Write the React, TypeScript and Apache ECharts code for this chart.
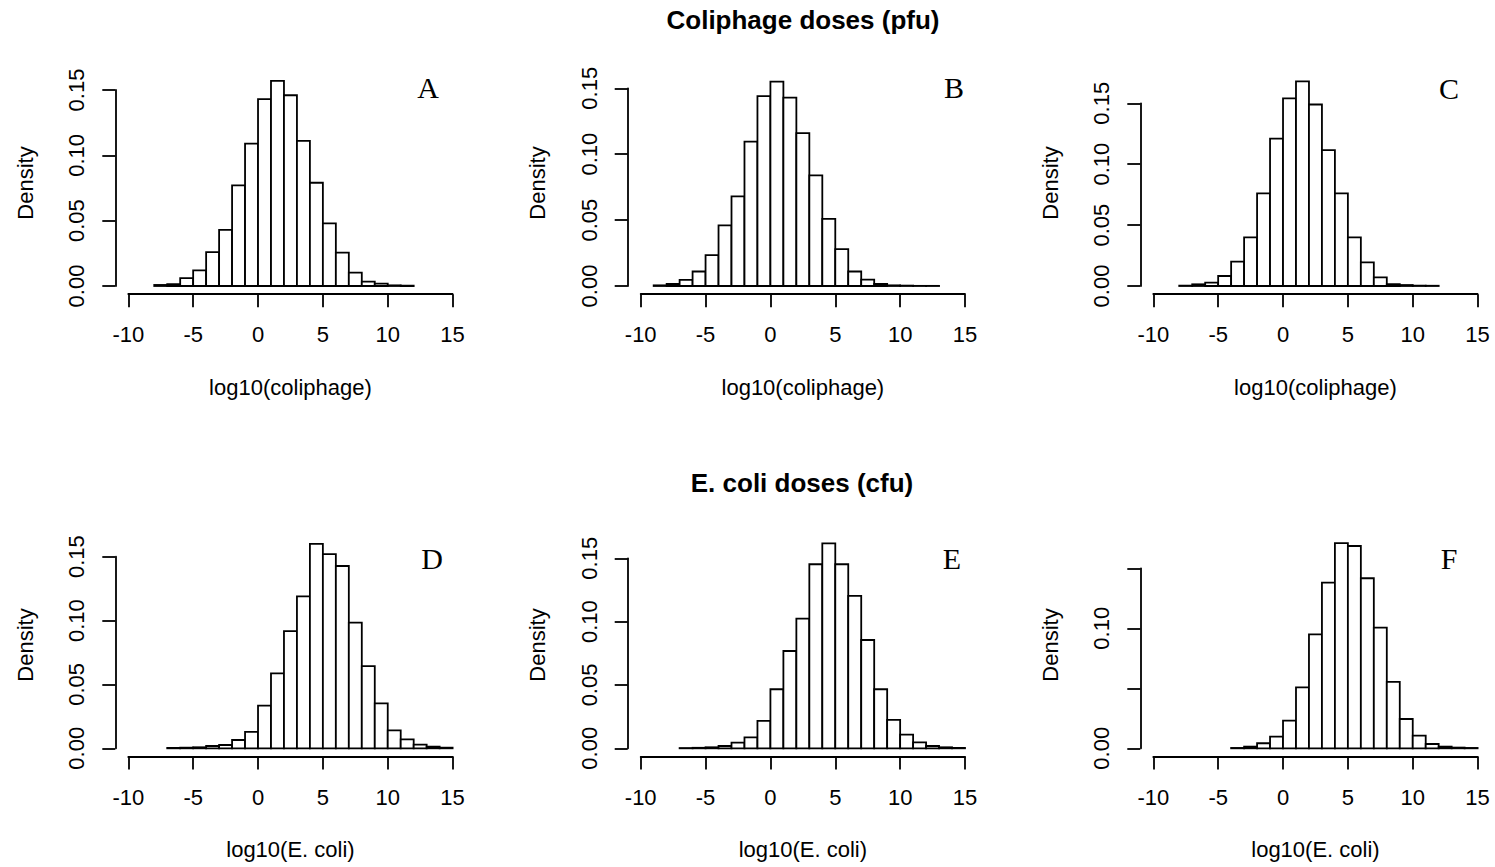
import React, { useEffect, useRef } from "react";
import * as echarts from "echarts";

// ---------- data (density per unit-width bin) ----------
const xTicks = [-10, -5, 0, 5, 10, 15];
const yTicks = [0, 0.05, 0.1, 0.15];

const panelLetters = ["A", "B", "C", "D", "E", "F"];
const rowTitles = ["Coliphage doses (pfu)", "E. coli doses (cfu)"];
const xTitles = ["log10(coliphage)", "log10(E. coli)"];
const yTitle = "Density";

const binWidth = 1;

const aBinStart = -8;
const aDensity = [0.0008, 0.0015, 0.006, 0.012, 0.026, 0.043, 0.077, 0.109, 0.143, 0.157, 0.146, 0.111, 0.079, 0.048, 0.0255, 0.0102, 0.0033, 0.0018, 0.0005, 0.0003];

const bBinStart = -9;
const bDensity = [0.0005, 0.0015, 0.0046, 0.011, 0.0235, 0.046, 0.068, 0.1095, 0.144, 0.155, 0.143, 0.116, 0.084, 0.051, 0.028, 0.011, 0.0048, 0.0015, 0.0005, 0.0003, 0.0001, 0.0001];

const cBinStart = -8;
const cDensity = [0.0003, 0.0014, 0.0027, 0.0082, 0.02, 0.04, 0.076, 0.121, 0.154, 0.168, 0.149, 0.1115, 0.076, 0.04, 0.0194, 0.0071, 0.0016, 0.0008, 0.0003, 0.0002];

const dBinStart = -7;
const dDensity = [0.0003, 0.0005, 0.0008, 0.0018, 0.0026, 0.0065, 0.0128, 0.0334, 0.0587, 0.0918, 0.119, 0.16, 0.152, 0.1427, 0.0984, 0.0644, 0.0352, 0.0141, 0.007, 0.0029, 0.0013, 0.0005];

const eBinStart = -7;
const eDensity = [0.0002, 0.0004, 0.0008, 0.0018, 0.0045, 0.0087, 0.0216, 0.0466, 0.0768, 0.1024, 0.1453, 0.1618, 0.1453, 0.1203, 0.0855, 0.0466, 0.0224, 0.0108, 0.0047, 0.0018, 0.0008, 0.0003];

const fBinStart = -4;
const fDensity = [0.0003, 0.0014, 0.0042, 0.0097, 0.023, 0.0508, 0.095, 0.138, 0.171, 0.1686, 0.1417, 0.1006, 0.0553, 0.0244, 0.0106, 0.0036, 0.0014, 0.0006, 0.0003];

// y tick labels hidden in panel F (R dropped them for overlap)
const fHiddenYLabels = [0.05, 0.15];

const panelData = [
  { start: aBinStart, dens: aDensity },
  { start: bBinStart, dens: bDensity },
  { start: cBinStart, dens: cDensity },
  { start: dBinStart, dens: dDensity },
  { start: eBinStart, dens: eDensity },
  { start: fBinStart, dens: fDensity },
];

// ---------- layout (pixels) ----------
const colLeft = [128.3, 640.7, 1153.3];
const gridWidth = 324.3;
const rowBaseline = [286, 748.3];
const gridTop = [90, 88.3, 103.3, 556.7, 558.3, 568.3];
const letterPos = [
  [428, 87], [954, 87], [1449, 88],
  [432, 558], [952, 558], [1449, 558],
];
const SANS = "'Liberation Sans', Arial, Helvetica, sans-serif";
const SERIF = "'Liberation Serif', 'Times New Roman', serif";
const LW = 1.8;
const FS = 22;

export default function App() {
  const ref = useRef<HTMLDivElement>(null);

  useEffect(() => {
    if (!ref.current) return;
    const chart = echarts.init(ref.current, undefined, { renderer: "svg" });

    const grids: any[] = [];
    const xAxes: any[] = [];
    const yAxes: any[] = [];
    const series: any[] = [];
    const graphics: any[] = [];

    for (let i = 0; i < 6; i++) {
      const row = Math.floor(i / 3);
      const col = i % 3;
      const top = gridTop[i];
      const height = rowBaseline[row] - top;
      grids.push({ left: colLeft[col], top, width: gridWidth, height, containLabel: false });

      xAxes.push({
        gridIndex: i,
        type: "value",
        min: xTicks[0],
        max: xTicks[xTicks.length - 1],
        interval: 5,
        offset: 8.2,
        axisLine: { show: true, onZero: false, lineStyle: { color: "#000", width: LW } },
        axisTick: { show: true, length: 13, lineStyle: { color: "#000", width: LW } },
        axisLabel: { show: true, color: "#000", fontSize: FS, fontFamily: SANS, margin: 29.5 },
        splitLine: { show: false },
      });

      const hidden = i === 5 ? fHiddenYLabels : [];
      yAxes.push({
        gridIndex: i,
        type: "value",
        min: yTicks[0],
        max: yTicks[yTicks.length - 1],
        interval: 0.05,
        offset: 13,
        axisLine: { show: true, onZero: false, lineStyle: { color: "#000", width: LW } },
        axisTick: { show: true, length: 13, lineStyle: { color: "#000", width: LW } },
        axisLabel: {
          show: true,
          color: "#000",
          fontSize: FS,
          fontFamily: SANS,
          rotate: 90,
          margin: 27.5,
          formatter: (v: number) => {
            for (const h of hidden) if (Math.abs(v - h) < 1e-9) return "";
            return v.toFixed(2);
          },
        },
        splitLine: { show: false },
      });

      const pd = panelData[i];
      const data = pd.dens.map((d, k) => [pd.start + k * binWidth, pd.start + (k + 1) * binWidth, d]);
      series.push({
        type: "custom",
        xAxisIndex: i,
        yAxisIndex: i,
        clip: false,
        silent: true,
        encode: { x: [0, 1], y: 2 },
        data,
        renderItem: (params: any, api: any) => {
          const x0 = api.value(0);
          const x1 = api.value(1);
          const d = api.value(2);
          const p0 = api.coord([x0, 0]);
          const p1 = api.coord([x1, d]);
          return {
            type: "rect",
            shape: { x: p0[0], y: p1[1], width: p1[0] - p0[0], height: p0[1] - p1[1] },
            style: { fill: "#fff", stroke: "#000", lineWidth: LW },
          };
        },
      });

      // panel letter
      graphics.push({
        type: "text",
        x: letterPos[i][0],
        y: letterPos[i][1],
        style: {
          text: panelLetters[i],
          font: `30px ${SERIF}`,
          fill: "#000",
          textAlign: "center",
          textVerticalAlign: "middle",
        },
      });

      // y title
      graphics.push({
        type: "text",
        x: colLeft[col] - 103,
        y: row === 0 ? 183 : 645,
        rotation: Math.PI / 2,
        style: {
          text: yTitle,
          font: `${FS}px ${SANS}`,
          fill: "#000",
          textAlign: "center",
          textVerticalAlign: "middle",
        },
      });

      // x title
      graphics.push({
        type: "text",
        x: colLeft[col] + gridWidth * 0.5,
        y: row === 0 ? 387 : 849,
        style: {
          text: xTitles[row],
          font: `${FS}px ${SANS}`,
          fill: "#000",
          textAlign: "center",
          textVerticalAlign: "middle",
        },
      });
    }

    graphics.push({
      type: "text",
      x: 803,
      y: 20,
      style: { text: rowTitles[0], font: `bold 26px ${SANS}`, fill: "#000", textAlign: "center", textVerticalAlign: "middle" },
    });
    graphics.push({
      type: "text",
      x: 802,
      y: 483,
      style: { text: rowTitles[1], font: `bold 26px ${SANS}`, fill: "#000", textAlign: "center", textVerticalAlign: "middle" },
    });

    chart.setOption({
      animation: false,
      backgroundColor: "#fff",
      grid: grids,
      xAxis: xAxes,
      yAxis: yAxes,
      series,
      graphic: graphics,
    });

    return () => chart.dispose();
  }, []);

  return (
    <div
      ref={ref}
      style={{ position: "absolute", left: 0, top: 0, width: 1495, height: 867, background: "#fff" }}
    />
  );
}
